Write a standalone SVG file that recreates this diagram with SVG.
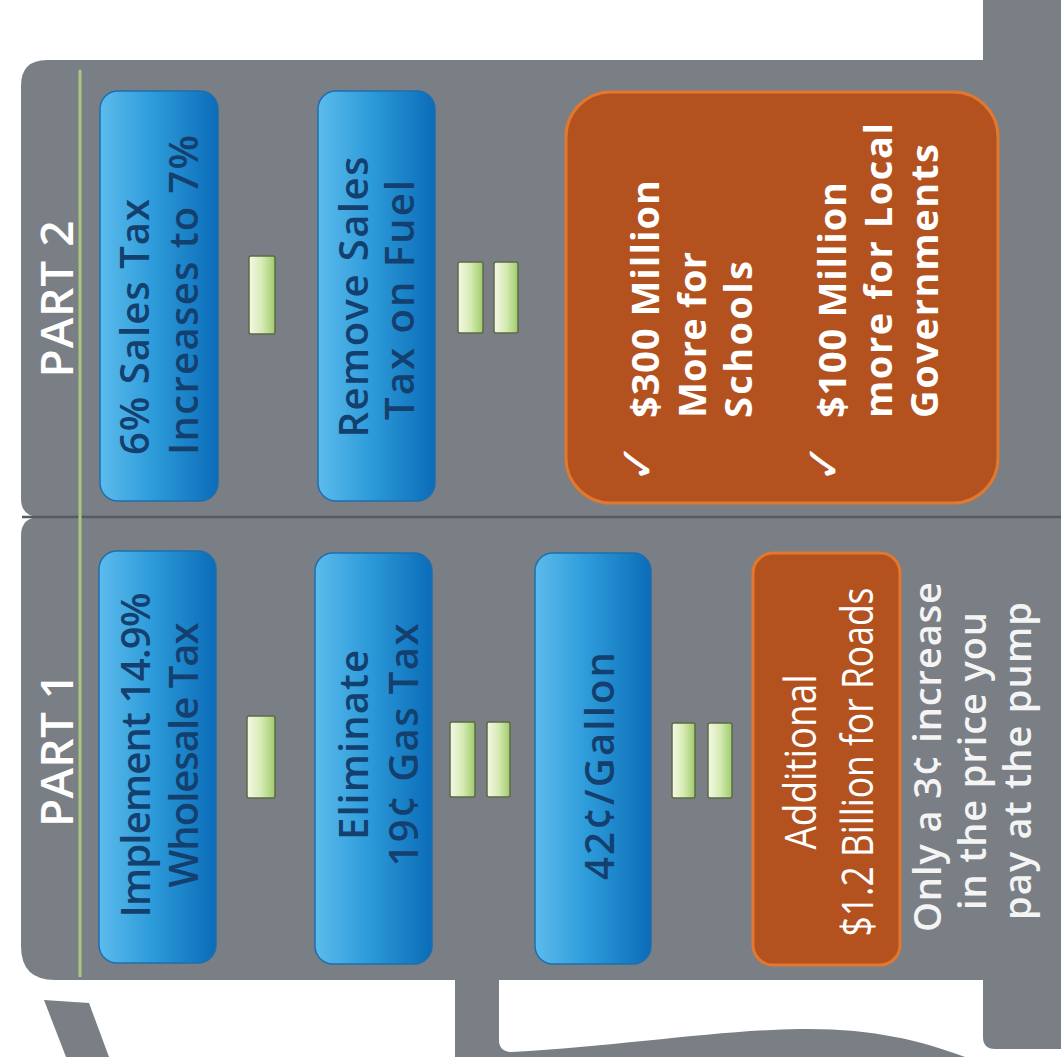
<svg xmlns="http://www.w3.org/2000/svg" width="1061" height="1057" viewBox="0 0 1061 1057">
<style>
.body{fill:#7a7e85}
.blue{fill:url(#gBlue);stroke:#1c6fb0;stroke-width:1.5}
.orange{fill:#b3521f;stroke:#e2782f;stroke-width:3}
.bar{fill:url(#gGreen);stroke:#5d6a47;stroke-width:1.5}
.tb{font-family:"Open Sans","Liberation Sans",sans-serif;font-size:40px;font-weight:600;fill:#14406f}
.tw{font-family:"Open Sans","Liberation Sans",sans-serif;font-size:38px;font-weight:600;fill:#f4f4f4}
.tn{font-family:"Open Sans","Liberation Sans",sans-serif;font-size:44px;fill:#ffffff}
.twb{font-family:"Open Sans","Liberation Sans",sans-serif;font-size:38px;font-weight:bold;fill:#ffffff}
.part{font-family:"Open Sans","Liberation Sans",sans-serif;font-size:46px;font-weight:600;fill:#ffffff}
.chk{font-family:"DejaVu Sans",sans-serif;font-size:48px;fill:#ffffff}
</style>
<defs>
<linearGradient id="gBlue" x1="0" y1="0" x2="1" y2="0">
<stop offset="0" stop-color="#5cbbec"/>
<stop offset="0.45" stop-color="#2d9bda"/>
<stop offset="1" stop-color="#0b6cb8"/>
</linearGradient>
<linearGradient id="gGreen" x1="0" y1="0" x2="1" y2="0">
<stop offset="0" stop-color="#f5f8e6"/>
<stop offset="0.5" stop-color="#d6ebb4"/>
<stop offset="1" stop-color="#9fcc6c"/>
</linearGradient>
</defs>

<g id="pump">
<path class="body" d="M983,0 H1061 V1049 H995 Q983,1049 983,1037 Z"/>
<path class="body" d="M21,86 Q21,60 47,60 H1061 V517 H40 Q21,517 21,498 Z"/>
<path class="body" d="M40,517 H1061 V980 H55 Q21,980 21,946 V536 Q21,517 40,517 Z"/>
<path class="body" d="M455,975 H499 V1040 Q499,1052 512,1052 C620,1046 720,1030 800,1029 C870,1028 920,1040 965,1057 H455 Z"/>
<path class="body" d="M44,1000 L89,1003 L109,1057 L66,1057 Z"/>
<line x1="22" y1="517" x2="1061" y2="517" stroke="#565a61" stroke-width="2.5"/>
<line x1="80" y1="70" x2="80" y2="977" stroke="#a9c77f" stroke-width="3"/>
</g>

<g id="part2-label"><text class="part" transform="translate(73,299) rotate(-90)" text-anchor="middle" textLength="157">PART 2</text></g>
<g id="part1-label"><text class="part" transform="translate(73,750) rotate(-90)" text-anchor="middle" textLength="154">PART 1</text></g>

<g id="node-sales-tax">
<rect class="blue" x="100" y="91" width="118" height="410" rx="18"/>
<text class="tb" transform="translate(149,455) rotate(-90)" textLength="256">6% Sales Tax</text>
<text class="tb" transform="translate(198,455) rotate(-90)" textLength="320">Increases to 7%</text>
</g>
<g id="node-remove-sales-tax">
<rect class="blue" x="318" y="91" width="117" height="410" rx="18"/>
<text class="tb" transform="translate(368,297) rotate(-90)" text-anchor="middle" textLength="281">Remove Sales</text>
<text class="tb" transform="translate(414,300) rotate(-90)" text-anchor="middle" textLength="240">Tax on Fuel</text>
</g>
<g id="node-schools">
<rect class="orange" x="566" y="92" width="432" height="411" rx="45"/>
<text class="chk" transform="translate(654,483) rotate(-90)">✓</text>
<text class="twb" transform="translate(659,418) rotate(-90)" textLength="238">$300 Million</text>
<text class="twb" transform="translate(706,418) rotate(-90)" textLength="166">More for</text>
<text class="twb" transform="translate(752,418) rotate(-90)" textLength="157">Schools</text>
<text class="chk" transform="translate(840,483) rotate(-90)">✓</text>
<text class="twb" transform="translate(846,418) rotate(-90)" textLength="236">$100 Million</text>
<text class="twb" transform="translate(892,418) rotate(-90)" textLength="295">more for Local</text>
<text class="twb" transform="translate(938,418) rotate(-90)" textLength="274">Governments</text>
</g>

<g id="node-wholesale">
<rect class="blue" x="99" y="551" width="117" height="412" rx="18"/>
<text class="tb" transform="translate(150,755) rotate(-90)" text-anchor="middle" textLength="325">Implement 14.9%</text>
<text class="tb" transform="translate(198,755) rotate(-90)" text-anchor="middle" textLength="265">Wholesale Tax</text>
</g>
<g id="node-gas-tax">
<rect class="blue" x="315" y="553" width="117" height="411" rx="18"/>
<text class="tb" transform="translate(368,745) rotate(-90)" text-anchor="middle" textLength="190">Eliminate</text>
<text class="tb" transform="translate(418,745) rotate(-90)" text-anchor="middle" textLength="243">19¢ Gas Tax</text>
</g>
<g id="node-gallon">
<rect class="blue" x="535" y="553" width="116" height="411" rx="18"/>
<text class="tb" transform="translate(614,766) rotate(-90)" text-anchor="middle" textLength="228">42¢/Gallon</text>
</g>
<g id="node-roads">
<rect class="orange" x="753" y="553" width="147" height="412" rx="20"/>
<text class="tn" transform="translate(816,762) rotate(-90)" text-anchor="middle" textLength="175" lengthAdjust="spacingAndGlyphs">Additional</text>
<text class="tn" transform="translate(873,762) rotate(-90)" text-anchor="middle" textLength="349" lengthAdjust="spacingAndGlyphs">$1.2 Billion for Roads</text>
</g>
<g id="note-pump">
<text class="tw" transform="translate(941,757) rotate(-90)" text-anchor="middle" textLength="350">Only a 3¢ increase</text>
<text class="tw" transform="translate(986,761) rotate(-90)" text-anchor="middle" textLength="298">in the price you</text>
<text class="tw" transform="translate(1031,761) rotate(-90)" text-anchor="middle" textLength="318">pay at the pump</text>
</g>

<g id="connectors">
<rect class="bar" x="249" y="256" width="26" height="78" rx="2"/>
<rect class="bar" x="458" y="262" width="25" height="71" rx="2"/>
<rect class="bar" x="494" y="262" width="24" height="71" rx="2"/>
<rect class="bar" x="247" y="716" width="28" height="82" rx="2"/>
<rect class="bar" x="450" y="722" width="25" height="75" rx="2"/>
<rect class="bar" x="487" y="722" width="23" height="75" rx="2"/>
<rect class="bar" x="672" y="723" width="23" height="75" rx="2"/>
<rect class="bar" x="708" y="723" width="24" height="75" rx="2"/>
</g>
</svg>
